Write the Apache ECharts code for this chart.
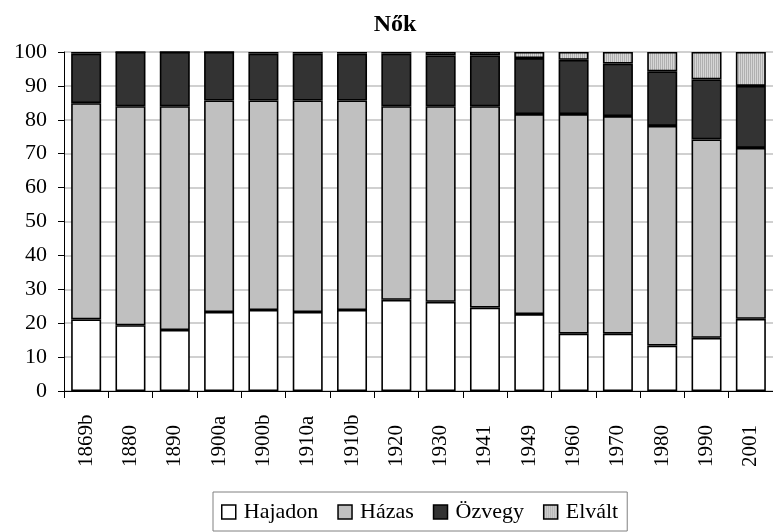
<!DOCTYPE html>
<html>
<head>
<meta charset="utf-8">
<script src="https://cdn.jsdelivr.net/npm/echarts@6/dist/echarts.min.js"></script>
<style>
html,body{margin:0;padding:0;background:#fff;}
#chart{width:773px;height:532px;}
</style>
</head>
<body>
<div id="chart"></div>
<script>
var categories = ['1869b','1880','1890','1900a','1900b','1910a','1910b','1920','1930','1941','1949','1960','1970','1980','1990','2001'];
var hajadon = [21.1,19.4,18.0,23.3,23.9,23.3,23.9,26.9,26.3,24.6,22.7,16.9,16.9,13.4,15.7,21.3];
var hazas   = [63.8,64.6,66.0,62.4,61.8,62.4,61.8,57.1,57.7,59.4,59.0,64.8,64.2,64.8,58.5,50.4];
var ozvegy  = [14.6,16.0,16.0,14.3,13.8,13.8,13.8,15.5,15.0,15.0,16.5,16.0,15.5,16.1,17.7,18.3];
var elvalt  = [0.5,0.0,0.0,0.0,0.5,0.5,0.5,0.5,1.0,1.0,1.8,2.3,3.4,5.7,8.1,10.0];
var yTicks = [0,10,20,30,40,50,60,70,80,90,100];

var FONT = "'Liberation Serif','Times New Roman',serif";

function makePattern(){
  var c = document.createElement('canvas');
  c.width = 4; c.height = 4;
  var g = c.getContext('2d');
  g.fillStyle = '#d6d6d6';
  g.fillRect(0,0,4,4);
  g.fillStyle = '#b0b0b0';
  g.fillRect(0,0,1,4);
  g.fillRect(2,0,1,4);
  return c;
}
var pattern = {image: makePattern(), repeat: 'repeat'};

var chart = echarts.init(document.getElementById('chart'), null, {renderer:'canvas'});
function barSeries(name, data, color){
  return {
    name: name, type: 'bar', stack: 'total', data: data,
    barWidth: 30,
    itemStyle: {color: color, borderColor: '#000', borderWidth: 1.6},
    emphasis: {disabled: true}
  };
}
chart.setOption({
  animation: false,
  backgroundColor: '#fff',
  title: {
    text: 'Nők', left: 390, top: 8, textAlign: 'center',
    textStyle: {fontFamily: FONT, fontWeight: 'bold', fontSize: 24, color: '#000'}
  },
  grid: {left: 64, top: 52, width: 714, height: 339},
  legend: {
    left: 213, top: 492,
    padding: [9, 9, 8, 8],
    itemGap: 19,
    itemWidth: 14, itemHeight: 14,
    borderColor: '#808080', borderWidth: 1,
    icon: 'rect',
    itemStyle: {borderColor: '#000', borderWidth: 1.5},
    textStyle: {fontFamily: FONT, fontSize: 22, color: '#000', padding: [0,0,0,3]},
    data: ['Hajadon','Házas','Özvegy','Elvált']
  },
  xAxis: {
    type: 'category', data: categories, boundaryGap: true,
    axisLine: {lineStyle: {color: '#000', width: 1}},
    axisTick: {show: true, length: 7, interval: 0, lineStyle: {color: '#000'}},
    axisLabel: {
      interval: 0, rotate: 90, align: 'left', verticalAlign: 'middle', margin: 76,
      fontFamily: FONT, fontSize: 21, color: '#000'
    }
  },
  yAxis: {
    type: 'value', min: yTicks[0], max: yTicks[yTicks.length-1], interval: 10,
    axisLine: {show: true, lineStyle: {color: '#000', width: 1}},
    axisTick: {show: true, length: 6, lineStyle: {color: '#000'}},
    axisLabel: {margin: 17, fontFamily: FONT, fontSize: 22, color: '#000'},
    splitLine: {show: true, lineStyle: {color: '#c0c0c0', width: 1.5}}
  },
  series: [
    barSeries('Hajadon', hajadon, '#ffffff'),
    barSeries('Házas', hazas, '#c0c0c0'),
    barSeries('Özvegy', ozvegy, '#333333'),
    barSeries('Elvált', elvalt, pattern)
  ]
});
</script>
</body>
</html>
